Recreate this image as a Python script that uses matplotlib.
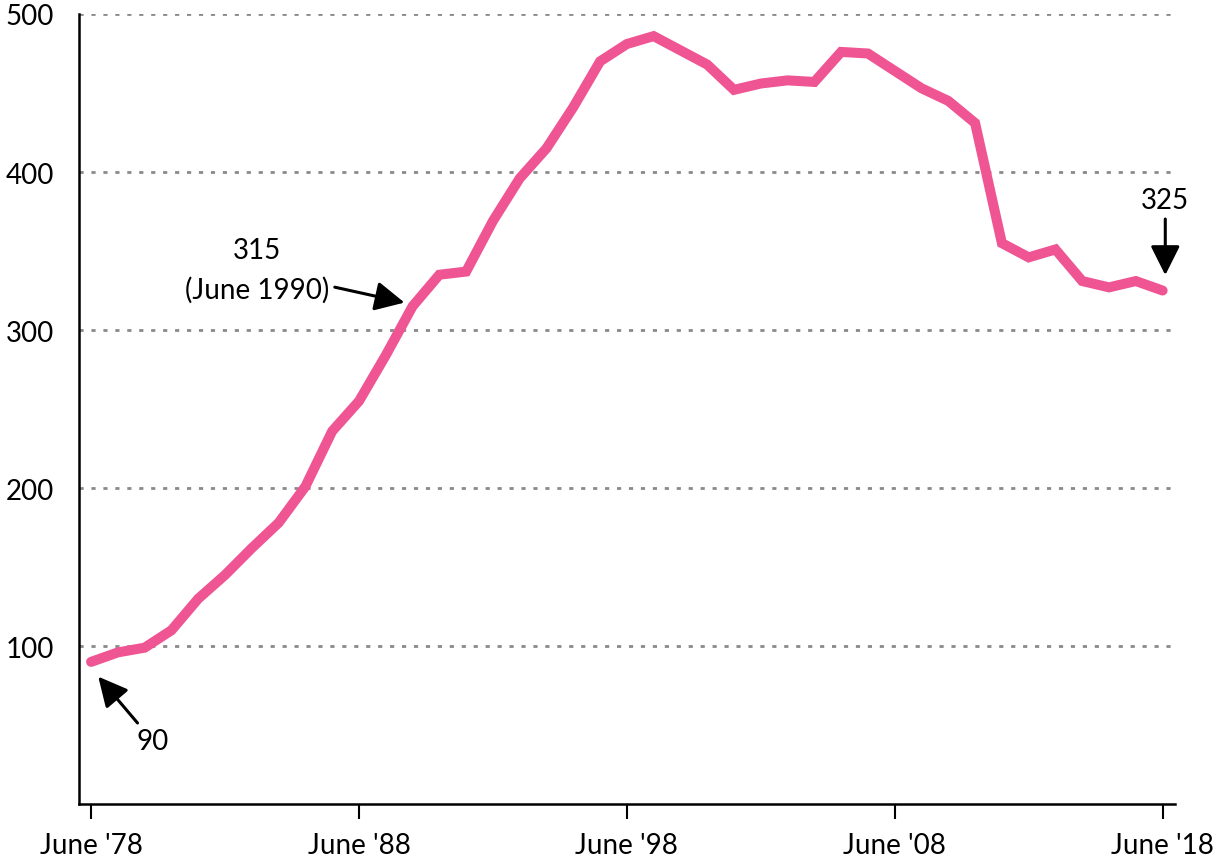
import matplotlib.pyplot as plt

years = list(range(1978, 2019))
values = [90, 96, 99, 110, 130, 145, 162, 178, 201, 236, 255, 284, 315,
          335, 337, 369, 396, 415, 441, 470, 481, 486, 477, 468, 452, 456,
          458, 457, 476, 475, 464, 453, 445, 431, 355, 346, 351, 331, 327,
          331, 325]
tick_years = [1978, 1988, 1998, 2008, 2018]
tick_labels = ["June '78", "June '88", "June '98", "June '08", "June '18"]
y_ticks = [100, 200, 300, 400, 500]

plt.rcParams['font.family'] = ['Lato', 'DejaVu Sans']

fig = plt.figure(figsize=(12.16, 8.62), dpi=100)
ax = fig.add_axes([0.065, 0.066, 0.901, 0.9166])

for y in y_ticks:
    ax.axhline(y, color='#8a8a8a', lw=2.0, ls=(0, (1.5, 2.8)), zorder=1)

ax.plot(years, values, color='#ef5493', lw=7.2, solid_capstyle='round',
        solid_joinstyle='miter', zorder=3)

ax.set_xlim(1977.55, 2018.45)
ax.set_ylim(0, 500)
ax.set_xticks(tick_years)
ax.set_xticklabels(tick_labels)
ax.set_yticks(y_ticks)
ax.tick_params(axis='x', length=11, width=1.5, labelsize=20, pad=9)
ax.tick_params(axis='y', length=0, labelsize=20, pad=18)

for s in ['top', 'right']:
    ax.spines[s].set_visible(False)
ax.spines['left'].set_linewidth(1.8)
ax.spines['bottom'].set_linewidth(1.8)

arrow = dict(arrowstyle='-|>,head_length=0.9,head_width=0.45', color='black', lw=2.2)
ax.annotate('90', xy=(1978.2, 82), xytext=(1980.3, 40), fontsize=20,
            ha='center', va='center', arrowprops=arrow)
ax.annotate('315\n(June 1990)', xy=(1989.8, 317), xytext=(1984.2, 338), fontsize=20,
            ha='center', va='center', linespacing=1.6, arrowprops=arrow)
ax.annotate('325', xy=(2018.1, 333), xytext=(2018.1, 382), fontsize=20,
            ha='center', va='center', arrowprops=arrow)

fig.savefig('out.png', dpi=100)
